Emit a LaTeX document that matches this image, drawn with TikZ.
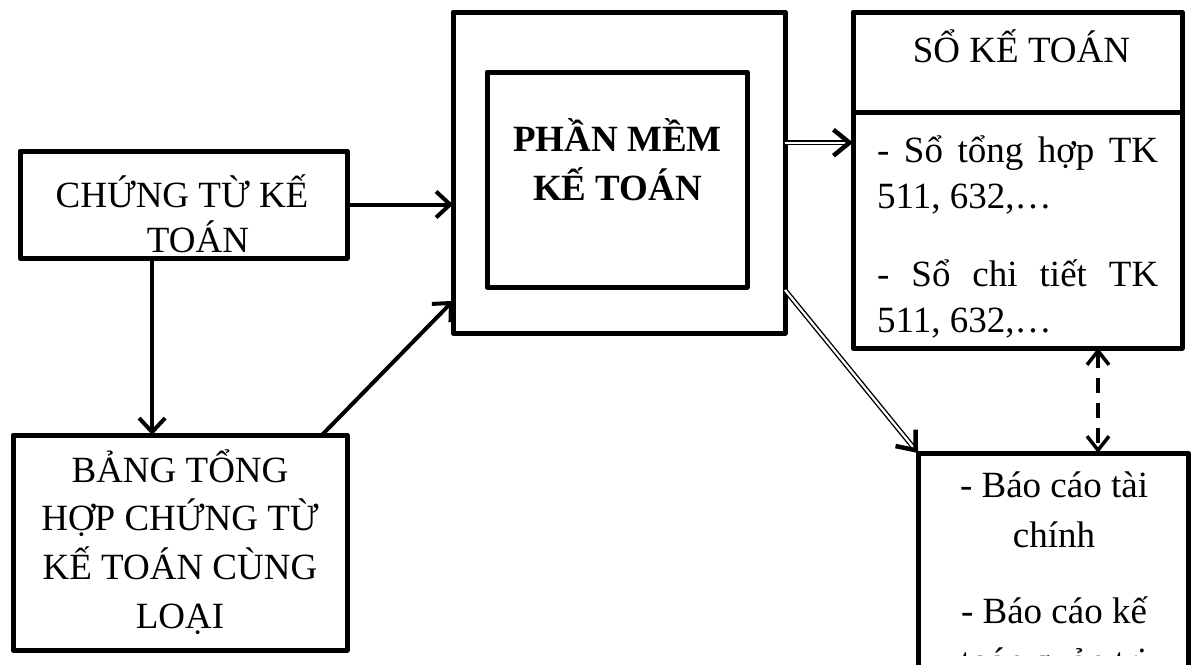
\documentclass[tikz,border=0pt]{standalone}
\usepackage{fontspec}
\setmainfont{Liberation Serif}
\usetikzlibrary{arrows.meta,calc}

\begin{document}
\begin{tikzpicture}[x=1pt,y=-1pt,
  box/.style={draw, line width=5pt, line join=round, inner sep=0pt, outer sep=0pt, anchor=north west},
  txt/.style={inner sep=0pt, anchor=base, font=\fontsize{37}{46}\selectfont},
  solidarrow/.style={line width=4pt, -{Straight Barb[length=14pt,width=26pt]}},
  dblarrow/.style={double, line width=1.4pt, double distance=2.2pt,
    -{Straight Barb[length=16pt,width=26pt,line width=4.5pt]}},
  dasharrow/.style={line width=3.5pt, dash pattern=on 15pt off 10pt,
    {Straight Barb[length=14pt,width=22pt]}-{Straight Barb[length=14pt,width=22pt]}}
]
\useasboundingbox (0,0) rectangle (1191,664);
\clip (0,0) rectangle (1191,664);

% boxes
\node[box, minimum width=327pt, minimum height=107pt] (A) at (20,151) {};
\node[box, minimum width=334pt, minimum height=215pt] (B) at (13,435) {};
\node[box, minimum width=332pt, minimum height=321pt] (C) at (453,12) {};
\node[box, minimum width=260pt, minimum height=215pt] (Ci) at (487,72) {};
\node[box, minimum width=329pt, minimum height=100pt] (D) at (853,12) {};
\node[box, minimum width=329pt, minimum height=236pt] (D2) at (853,112) {};
\node[box, minimum width=270pt, minimum height=240pt] (E) at (918,453) {};

% texts
\node[txt, font=\fontsize{37}{45}\selectfont] (tA) at (182,207)
  {\begin{tabular}[t]{@{}c@{}}\smash{CHỨNG TỪ KẾ}\\\hspace*{32pt}\smash{TOÁN}\end{tabular}};
\node[txt, font=\fontsize{37}{48.7}\selectfont] (tB) at (180,482)
  {\begin{tabular}[t]{@{}c@{}}\smash{BẢNG TỔNG}\\\smash{HỢP CHỨNG TỪ}\\\smash{KẾ TOÁN CÙNG}\\\smash{LOẠI}\end{tabular}};
\node[txt, font=\fontsize{37}{49}\selectfont\bfseries] (tC) at (617.5,151)
  {\begin{tabular}[t]{@{}c@{}}\smash{PHẦN MỀM}\\\smash{KẾ TOÁN}\end{tabular}};
\node[txt] (tD) at (1021.5,62) {SỔ KẾ TOÁN};
\node[txt, anchor=base west, font=\fontsize{37}{46.5}\selectfont] (tD2) at (877,162)
  {\begin{tabular}[t]{@{}l@{}}\smash{\makebox[281pt][s]{- Sổ tổng hợp TK}}\\\smash{511, 632,…}\\[31pt]\smash{\makebox[281pt][s]{- Sổ chi tiết TK}}\\\smash{511, 632,…}\end{tabular}};
\begin{scope}
  \clip (918,453) rectangle (1191,655);
  \node[txt, font=\fontsize{37}{50}\selectfont] (tE) at (1054,497)
    {\begin{tabular}[t]{@{}c@{}}\smash{- Báo cáo tài}\\\smash{chính}\\[26pt]\smash{- Báo cáo kế}\\\smash{toán quản trị}\end{tabular}};
\end{scope}

% connectors
\draw[solidarrow] (A.east) -- (A.east -| C.west);
\coordinate (ab) at ($(A.south west)!0.404!(A.south east)$);
\draw[solidarrow] (ab) -- (ab |- B.north);
\draw[solidarrow] ($(B.north west)!0.925!(B.north east)$) -- ($(C.north west)!0.9!(C.south west)$);
\coordinate (cd) at ($(D2.north west)!0.13!(D2.south west)$);
\draw[dblarrow] (cd -| C.east) -- (cd);
\draw[dblarrow] ($(C.north east)!0.866!(C.south east)$) -- (E.north west);
\coordinate (dd) at (1098,400);
\draw[dasharrow] (dd |- D2.south) -- (dd |- E.north);
\end{tikzpicture}
\end{document}
